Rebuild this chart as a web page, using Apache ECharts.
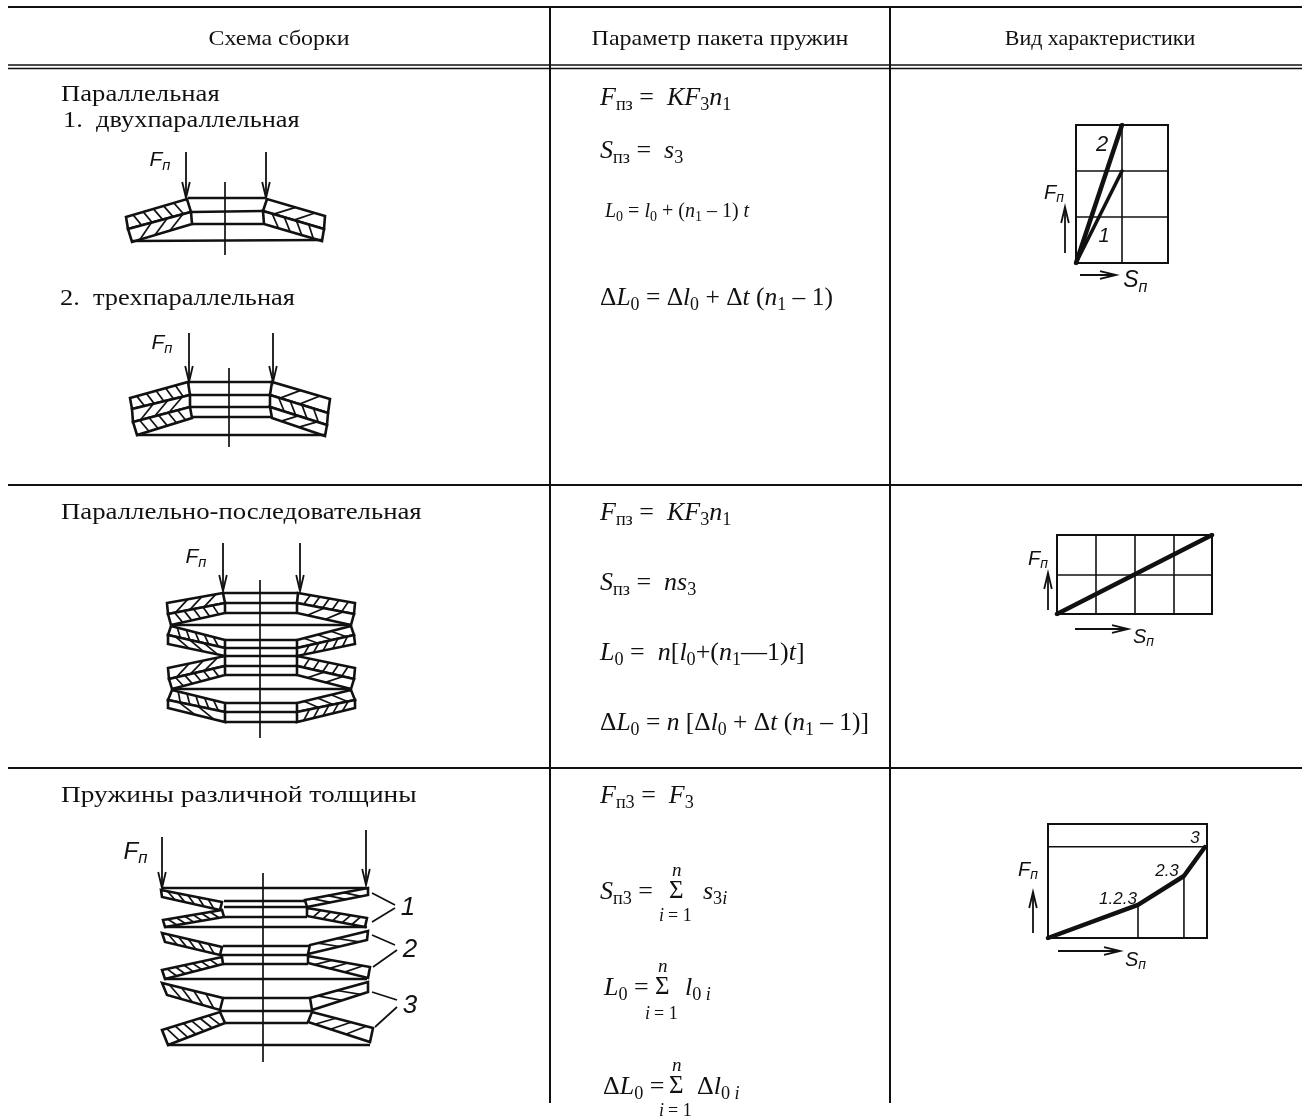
<!DOCTYPE html>
<html lang="ru">

<head>
  <meta charset="UTF-8">
  <title>Схема сборки пружин</title>
  <style>
    html, body { margin: 0; padding: 0; background: #fff; }
    #main { width: 1302px; height: 1118px; }
  </style>
</head>

<body>
  <div id="main"></div>

  <script src="https://cdn.jsdelivr.net/npm/echarts@6/dist/echarts.min.js"></script>
  <script>
    // table text
    const headers = ["Схема сборки", "Параметр пакета пружин", "Вид характеристики"]
    const groupTitles = ["Параллельная", "Параллельно-последовательная", "Пружины различной толщины"]
    const subTitles = ["1.  двухпараллельная", "2.  трехпараллельная"]
    const calloutLabels = ["1", "2", "3"]

    // characteristic 1: load against deflection, two lines
    const char1Line1 = [[0, 0], [1, 2]]
    const char1Line2 = [[0, 0], [1, 3]]
    const char1Labels = ["1", "2"]

    // characteristic 2
    const char2Line = [[0, 0], [4, 2]]

    // characteristic 3: broken line in percent of the box
    const char3Line = [[0, 0], [56.6, 29], [85.5, 54.4], [98.7, 79.8]]
    const char3Drop1 = [[56.6, 0], [56.6, 29]]
    const char3Drop2 = [[85.5, 0], [85.5, 54.4]]
    const char3Level = [[0, 80], [100, 80]]
    const char3Labels = ["1.2.3", "2.3", "3"]

    // table rules in page units: x1, y1, x2, y2
    const ruleLines = [
      [8, 7, 1302, 7], [8, 485, 1302, 485], [8, 768, 1302, 768],
      [550, 7, 550, 1103], [890, 7, 890, 1103]
    ]
    const doubleRuleLines = [[8, 65, 1302, 65], [8, 68.5, 1302, 68.5]]

    // disc sections: outer top, inner top, inner bottom, outer bottom, hatch count, hatch slant
    const discs = [
      // 1. double parallel
      [126, 217, 187, 199, 191, 212, 128, 229, 5, 0.05],
      [128, 229, 191, 212, 192, 224, 132, 242, 3, -0.12],
      [325, 216, 267, 199, 263, 211, 324, 229, 2, 0.16],
      [324, 229, 263, 211, 264, 224, 322, 241, 4, -0.05],
      // 2. triple parallel
      [130, 398, 188, 382, 190, 395, 132, 409, 5, 0.05],
      [132, 409, 190, 395, 190, 407, 133, 422, 3, -0.12],
      [133, 422, 190, 407, 192, 418, 137, 435, 5, 0.05],
      [330, 399, 272, 382, 270, 395, 328, 413, 2, 0.16],
      [328, 413, 270, 395, 270, 407, 327, 425, 4, -0.05],
      [327, 425, 270, 407, 272, 418, 325, 436, 2, 0.16],
      // parallel-series, left
      [167, 603, 223, 593, 225, 603, 168, 614, 3, -0.12],
      [168, 614, 225, 603, 225, 613, 171, 625, 5, 0.05],
      [171, 626, 225, 640, 225, 648, 168, 635, 5, 0.05],
      [168, 635, 225, 648, 225, 656, 168, 644, 3, 0.12],
      [168, 668, 225, 656, 225, 666, 169, 679, 3, -0.12],
      [169, 679, 225, 666, 225, 675, 172, 689, 5, 0.05],
      [172, 690, 225, 703, 225, 712, 168, 700, 5, 0.05],
      [168, 700, 225, 712, 225, 722, 168, 708, 2, 0.14],
      // parallel-series, right
      [355, 603, 298, 593, 297, 603, 354, 614, 5, 0.05],
      [354, 614, 297, 603, 297, 613, 351, 625, 2, 0.14],
      [351, 626, 297, 640, 297, 648, 354, 635, 3, -0.12],
      [354, 635, 297, 648, 297, 656, 355, 644, 5, 0.05],
      [355, 668, 297, 656, 297, 666, 354, 679, 5, 0.05],
      [354, 679, 297, 666, 297, 675, 351, 689, 2, 0.14],
      [351, 690, 297, 703, 297, 712, 355, 700, 3, -0.12],
      [355, 700, 297, 712, 297, 722, 355, 708, 5, 0.05],
      // different thickness, left
      [161, 890, 222, 902, 220, 910, 162, 897, 5, 0.06],
      [163, 920, 222, 910, 224, 917, 165, 927, 6, 0.06],
      [162, 933, 222, 947, 220, 955, 165, 942, 5, 0.06],
      [162, 970, 222, 957, 223, 964, 165, 979, 6, 0.06],
      [162, 983, 223, 998, 220, 1010, 167, 995, 4, 0.08],
      [162, 1030, 220, 1012, 225, 1023, 168, 1045, 6, 0.06],
      // different thickness, right
      [368, 888, 305, 900, 307, 907, 368, 895, 3, -0.14],
      [367, 918, 307, 908, 307, 916, 365, 927, 5, 0.06],
      [368, 931, 310, 945, 308, 954, 367, 940, 2, -0.2],
      [370, 967, 308, 956, 308, 963, 368, 978, 3, 0.14],
      [368, 982, 310, 998, 312, 1010, 368, 992, 2, -0.2],
      [373, 1028, 312, 1012, 308, 1022, 370, 1042, 3, 0.14]
    ]

    // flats and long contact lines of the assemblies
    const springLines = [
      [188, 198, 265, 198], [192, 212, 263, 211], [192, 224, 263, 224], [132, 241, 323, 240],
      [189, 382, 272, 382], [190, 395, 270, 395], [190, 407, 270, 407], [192, 417, 271, 417], [137, 435, 326, 435],
      [223, 593, 298, 593], [225, 603, 297, 603], [225, 613, 297, 613],
      [225, 640, 297, 640], [225, 648, 297, 648], [225, 656, 297, 656],
      [225, 666, 297, 666], [225, 675, 297, 675],
      [225, 703, 297, 703], [225, 712, 297, 712], [225, 722, 297, 722],
      [171, 625, 352, 625], [172, 689, 352, 689],
      [162, 888, 366, 888], [224, 901, 305, 901], [224, 907, 307, 907], [224, 917, 307, 917], [165, 927, 367, 927],
      [223, 946, 310, 946], [221, 955, 308, 955], [223, 964, 308, 964], [165, 979, 367, 979],
      [223, 998, 310, 998], [221, 1011, 312, 1011], [225, 1023, 308, 1023], [168, 1045, 370, 1045]
    ]

    // centre lines and callout leaders
    const thinLines = [
      [225, 182, 225, 255], [229, 368, 229, 447], [260, 580, 260, 738], [263, 873, 263, 1062],
      [372, 893, 395, 905], [372, 922, 395, 908], [372, 935, 395, 945],
      [373, 967, 397, 950], [372, 992, 397, 1000], [375, 1027, 397, 1007]
    ]

    // arrows: tail x, y, tip x, y
    const arrows = [
      [186, 152, 186, 198], [266, 152, 266, 198], [189, 333, 189, 382], [273, 333, 273, 382],
      [223, 543, 223, 591], [300, 543, 300, 591], [162, 837, 162, 888], [366, 830, 366, 885],
      [1065, 253, 1065, 207], [1080, 275, 1116, 275],
      [1048, 610, 1048, 573], [1075, 629, 1128, 629],
      [1033, 933, 1033, 892], [1058, 951, 1120, 951]
    ]

    const ink = "#111"
    const serif = '"Liberation Serif"'
    const sans = '"Liberation Sans"'
    const measureCtx = document.createElement("canvas").getContext("2d")

    function textEl(str, x, base, size, style, family, align, stretch) {
      return {
        type: "text", silent: true, z: 20,
        x: x, y: base - size * 0.2, scaleX: stretch || 1,
        style: {
          text: str, fill: ink, textAlign: align || "left", textVerticalAlign: "middle",
          font: style + " " + size + "px " + family
        }
      }
    }

    // parts: [text, kind] i italic, r roman, s roman subscript, t italic subscript
    function formula(x, base, size, parts, family) {
      family = family || serif
      const out = []
      parts.forEach(function (p) {
        const kind = p[1]
        const isSub = kind === "s" || kind === "t"
        const s = isSub ? size * 0.7 : size
        const style = kind === "i" || kind === "t" ? "italic" : "normal"
        measureCtx.font = style + " " + s + "px " + family
        out.push(textEl(p[0], x, isSub ? base + size * 0.22 : base, s, style, family))
        x += measureCtx.measureText(p[0]).width
      })
      return out
    }

    function sketchLabel(main, sub, cx, cy, size) {
      return formula(cx - size * 0.6, cy + size * 0.2, size, [[main, "i"], [sub, "t"]], sans)
    }

    function sigma(x, nBase, midBase, lowBase, lowX) {
      return [
        textEl("n", x + 3, nBase - 2.5, 19, "italic", serif),
        textEl("Σ", x, midBase - 1, 25, "normal", serif),
        textEl("i", lowX, lowBase - 2.5, 18, "italic", serif),
        textEl("= 1", lowX + 9, lowBase - 2.5, 18, "normal", serif)
      ]
    }

    function buildTexts() {
      let t = []
      t.push(textEl(headers[0], 279, 44, 22, "normal", serif, "center", 1.087))
      t.push(textEl(headers[1], 720, 44, 22, "normal", serif, "center", 1.093))
      t.push(textEl(headers[2], 1100, 44, 22, "normal", serif, "center"))
      t.push(textEl(groupTitles[0], 61, 100, 24, "normal", serif, "left", 1.11))
      t.push(textEl(subTitles[0], 63, 126, 24, "normal", serif, "left", 1.1))
      t.push(textEl(subTitles[1], 60, 304, 24, "normal", serif, "left", 1.1))
      t.push(textEl(groupTitles[1], 61, 518, 24, "normal", serif, "left", 1.115))
      t.push(textEl(groupTitles[2], 61, 801, 24, "normal", serif, "left", 1.14))

      // row 1
      t = t.concat(formula(600, 103, 26, [["F", "i"], ["пз", "s"], [" =  ", "r"], ["KF", "i"], ["3", "s"], ["n", "i"], ["1", "s"]]))
      t = t.concat(formula(600, 156, 26, [["S", "i"], ["пз", "s"], [" =  ", "r"], ["s", "i"], ["3", "s"]]))
      t = t.concat(formula(605, 216, 20, [["L", "i"], ["0", "s"], [" = ", "r"], ["l", "i"], ["0", "s"], [" + (", "r"], ["n", "i"], ["1", "s"], [" – 1) ", "r"], ["t", "i"]]))
      t = t.concat(formula(600, 303, 25.5, [["Δ", "r"], ["L", "i"], ["0", "s"], [" = Δ", "r"], ["l", "i"], ["0", "s"], [" + Δ", "r"], ["t", "i"], [" (", "r"], ["n", "i"], ["1", "s"], [" – 1)", "r"]]))

      // row 2
      t = t.concat(formula(600, 518, 26, [["F", "i"], ["пз", "s"], [" =  ", "r"], ["KF", "i"], ["3", "s"], ["n", "i"], ["1", "s"]]))
      t = t.concat(formula(600, 588, 26, [["S", "i"], ["пз", "s"], [" =  ", "r"], ["ns", "i"], ["3", "s"]]))
      t = t.concat(formula(600, 658, 26, [["L", "i"], ["0", "s"], [" =  ", "r"], ["n", "i"], ["[", "r"], ["l", "i"], ["0", "s"], ["+(", "r"], ["n", "i"], ["1", "s"], ["—1)", "r"], ["t", "i"], ["]", "r"]]))
      t = t.concat(formula(600, 728, 25.5, [["Δ", "r"], ["L", "i"], ["0", "s"], [" = ", "r"], ["n", "i"], [" [Δ", "r"], ["l", "i"], ["0", "s"], [" + Δ", "r"], ["t", "i"], [" (", "r"], ["n", "i"], ["1", "s"], [" – 1)]", "r"]]))

      // row 3
      t = t.concat(formula(600, 801, 26, [["F", "i"], ["п3", "s"], [" =  ", "r"], ["F", "i"], ["3", "s"]]))
      t = t.concat(formula(600, 897, 26, [["S", "i"], ["п3", "s"], [" = ", "r"]]))
      t = t.concat(sigma(669, 877, 897, 922, 659))
      t = t.concat(formula(703, 897, 26, [["s", "i"], ["3", "s"], ["i", "t"]]))
      t = t.concat(formula(604, 993, 26, [["L", "i"], ["0", "s"], [" = ", "r"]]))
      t = t.concat(sigma(655, 973, 993, 1020, 645))
      t = t.concat(formula(685, 993, 26, [["l", "i"], ["0", "s"], [" ", "s"], ["i", "t"]]))
      t = t.concat(formula(603, 1092, 26, [["Δ", "r"], ["L", "i"], ["0", "s"], [" = ", "r"]]))
      t = t.concat(sigma(669, 1072, 1092, 1117, 659))
      t = t.concat(formula(697, 1092, 26, [["Δ", "r"], ["l", "i"], ["0", "s"], [" ", "s"], ["i", "t"]]))

      // force and travel marks on the sketches
      t = t.concat(sketchLabel("F", "п", 162, 160, 21))
      t = t.concat(sketchLabel("F", "п", 164, 343, 21))
      t = t.concat(sketchLabel("F", "п", 198, 557, 21))
      t = t.concat(sketchLabel("F", "п", 138, 852, 24))
      t = t.concat(sketchLabel("F", "п", 1056, 193, 20))
      t = t.concat(sketchLabel("S", "п", 1137, 281, 23))
      t = t.concat(sketchLabel("F", "п", 1040, 559, 20))
      t = t.concat(sketchLabel("S", "п", 1145, 637, 20))
      t = t.concat(sketchLabel("F", "п", 1030, 870, 20))
      t = t.concat(sketchLabel("S", "п", 1137, 960, 20))

      // callouts and curve labels
      t.push(textEl(calloutLabels[0], 408, 913, 26, "italic", sans, "center"))
      t.push(textEl(calloutLabels[1], 410, 955, 26, "italic", sans, "center"))
      t.push(textEl(calloutLabels[2], 410, 1011, 26, "italic", sans, "center"))
      t.push(textEl(char1Labels[0], 1104, 240, 20, "italic", sans, "center"))
      t.push(textEl(char1Labels[1], 1102, 149, 22, "italic", sans, "center"))
      t.push(textEl(char3Labels[0], 1118, 903, 17, "italic", sans, "center"))
      t.push(textEl(char3Labels[1], 1167, 875, 17, "italic", sans, "center"))
      t.push(textEl(char3Labels[2], 1195, 842, 17, "italic", sans, "center"))
      return t
    }

    function segmentSeries(data, width) {
      return {
        type: "custom", xAxisIndex: 0, yAxisIndex: 0, coordinateSystem: "cartesian2d",
        silent: true, clip: false, encode: { x: [0, 2], y: [1, 3] }, data: data,
        renderItem: function (params, api) {
          const a = api.coord([api.value(0), api.value(1)])
          const b = api.coord([api.value(2), api.value(3)])
          return {
            type: "line",
            shape: { x1: a[0], y1: a[1], x2: b[0], y2: b[1] },
            style: { stroke: ink, lineWidth: width, fill: null }
          }
        }
      }
    }

    function renderDisc(params, api) {
      const p = [0, 2, 4, 6].map(function (i) {
        return api.coord([api.value(i), api.value(i + 1)])
      })
      const n = api.value(8)
      const slant = api.value(9)
      const children = [{
        type: "polygon",
        shape: { points: p },
        style: { fill: "#fff", stroke: ink, lineWidth: 2.6 }
      }]
      for (let k = 1; k <= n; k++) {
        const f = k / (n + 1)
        const f1 = f + slant
        const f2 = f - slant
        children.push({
          type: "line",
          shape: {
            x1: p[1][0] + (p[0][0] - p[1][0]) * f1, y1: p[1][1] + (p[0][1] - p[1][1]) * f1,
            x2: p[2][0] + (p[3][0] - p[2][0]) * f2, y2: p[2][1] + (p[3][1] - p[2][1]) * f2
          },
          style: { stroke: ink, lineWidth: 1.7, fill: null }
        })
      }
      return { type: "group", children: children }
    }

    function renderArrow(params, api) {
      const a = api.coord([api.value(0), api.value(1)])
      const b = api.coord([api.value(2), api.value(3)])
      const len = Math.hypot(b[0] - a[0], b[1] - a[1])
      const ux = (b[0] - a[0]) / len
      const uy = (b[1] - a[1]) / len
      const back = 16
      const side = 3.8
      return {
        type: "group",
        children: [{
          type: "line",
          shape: { x1: a[0], y1: a[1], x2: b[0], y2: b[1] },
          style: { stroke: ink, lineWidth: 1.8, fill: null }
        }, {
          type: "polyline",
          shape: {
            points: [
              [b[0] - ux * back - uy * side, b[1] - uy * back + ux * side],
              [b[0], b[1]],
              [b[0] - ux * back + uy * side, b[1] - uy * back - ux * side]
            ]
          },
          style: { stroke: ink, lineWidth: 1.8, fill: null }
        }]
      }
    }

    // one small chart box with real axes
    function boxAxes(gridIndex, xMax, xStep, yMax, yStep, showSplit) {
      const split = { show: showSplit, lineStyle: { color: ink, width: 1.6 } }
      return {
        x: {
          type: "value", gridIndex: gridIndex, min: 0, max: xMax, interval: xStep,
          axisLine: { show: false }, axisTick: { show: false }, axisLabel: { show: false }, splitLine: split
        },
        y: {
          type: "value", gridIndex: gridIndex, min: 0, max: yMax, interval: yStep,
          axisLine: { show: false }, axisTick: { show: false }, axisLabel: { show: false }, splitLine: split
        }
      }
    }

    function curve(axisIndex, data, width) {
      return {
        type: "line", xAxisIndex: axisIndex, yAxisIndex: axisIndex, data: data, silent: true,
        symbol: "none", z: 10, lineStyle: { color: ink, width: width, cap: "round" }
      }
    }

    const box1 = boxAxes(1, 2, 1, 3, 1, true)
    const box2 = boxAxes(2, 4, 1, 2, 1, true)
    const box3 = boxAxes(3, 100, 100, 100, 100, false)
    const boxGrid = { show: true, borderColor: ink, borderWidth: 2, backgroundColor: "transparent", containLabel: false }

    const option = {
      animation: false,
      backgroundColor: "#fff",
      grid: [
        { left: 0, top: 0, width: 1302, height: 1118 },
        Object.assign({ left: 1076, top: 125, width: 92, height: 138 }, boxGrid),
        Object.assign({ left: 1057, top: 535, width: 155, height: 79 }, boxGrid),
        Object.assign({ left: 1048, top: 824, width: 159, height: 114 }, boxGrid)
      ],
      xAxis: [
        { type: "value", gridIndex: 0, min: 0, max: 1302, show: false },
        box1.x, box2.x, box3.x
      ],
      yAxis: [
        { type: "value", gridIndex: 0, min: 0, max: 1118, inverse: true, show: false },
        box1.y, box2.y, box3.y
      ],
      graphic: buildTexts(),
      series: [
        segmentSeries(ruleLines, 2),
        segmentSeries(doubleRuleLines, 1.6),
        segmentSeries(thinLines, 1.7),
        {
          type: "custom", xAxisIndex: 0, yAxisIndex: 0, silent: true, clip: false,
          encode: { x: [0, 2, 4, 6], y: [1, 3, 5, 7] }, data: discs, renderItem: renderDisc
        },
        segmentSeries(springLines, 2.6),
        {
          type: "custom", xAxisIndex: 0, yAxisIndex: 0, silent: true, clip: false,
          encode: { x: [0, 2], y: [1, 3] }, data: arrows, renderItem: renderArrow
        },
        curve(1, char1Line1, 3.5),
        curve(1, char1Line2, 4.5),
        curve(2, char2Line, 4.5),
        curve(3, char3Drop1, 1.6),
        curve(3, char3Drop2, 1.6),
        curve(3, char3Level, 1.6),
        curve(3, char3Line, 4.5)
      ]
    }

    window.onload = function () {
      const myChart = echarts.init(document.getElementById("main"))
      myChart.setOption(option)
    }
  </script>
</body>

</html>
